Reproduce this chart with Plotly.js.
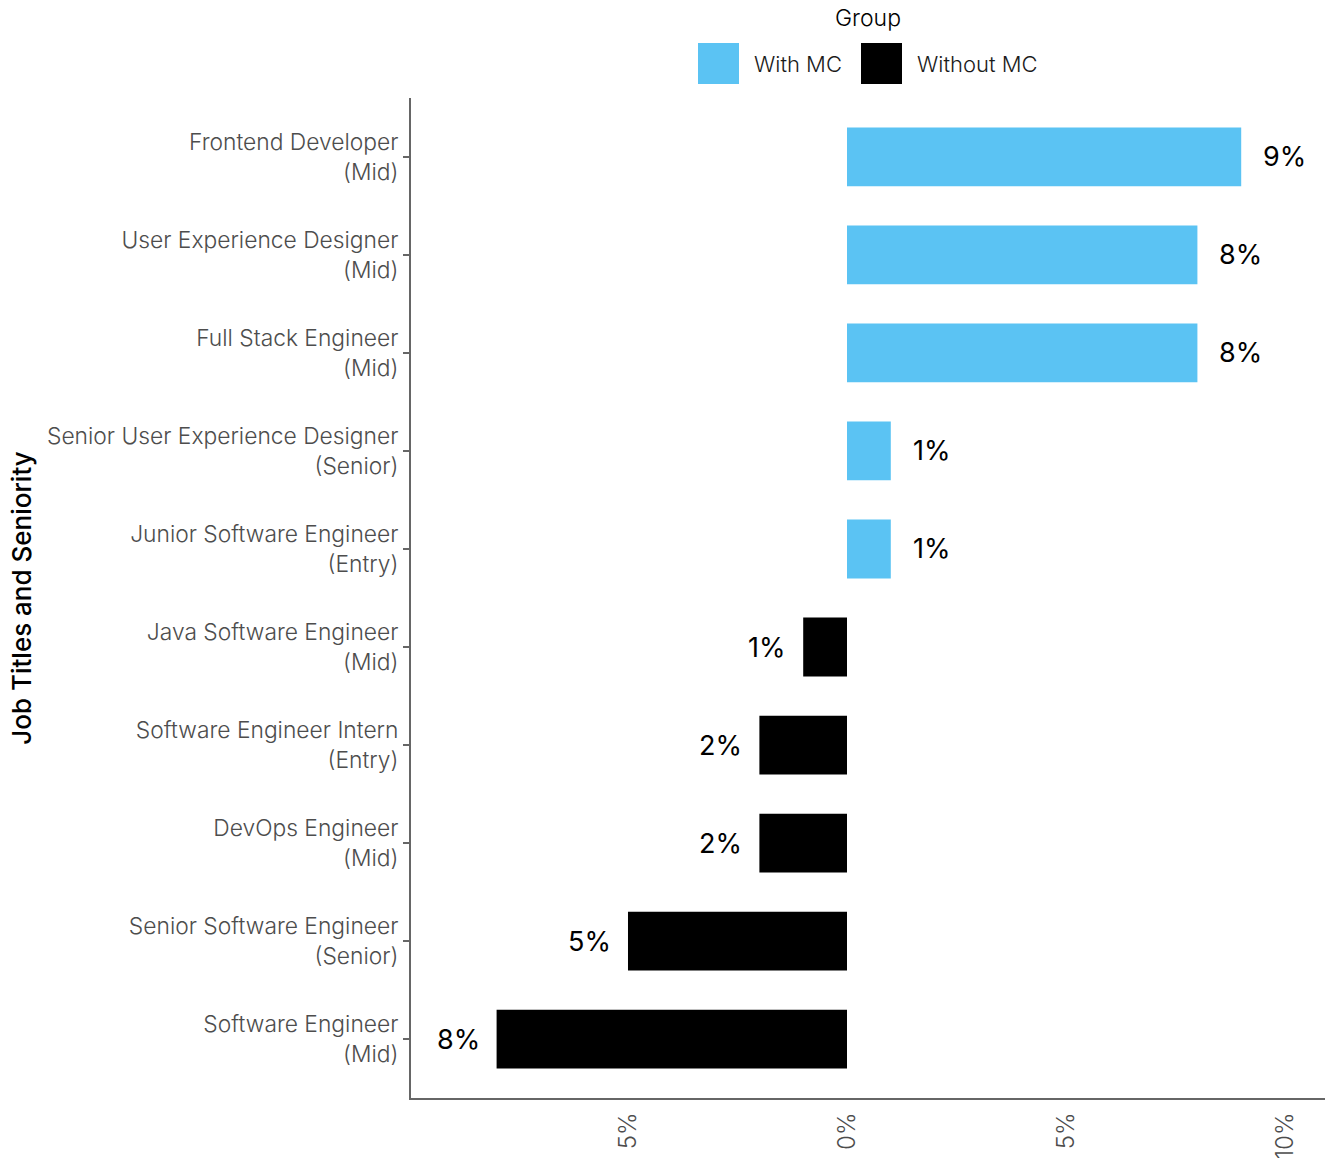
<!DOCTYPE html>
<html>
<head>
<meta charset="utf-8">
<script src="https://cdn.plot.ly/plotly-3.0.1.min.js"></script>
<style>html,body{margin:0;padding:0;background:#fff;}#chart{width:1327px;height:1159px;}</style>
</head>
<body>
<div id="chart"></div>
<script>
// Categories, top to bottom
const categories = [
  "Frontend Developer<br>(Mid)",
  "User Experience Designer<br>(Mid)",
  "Full Stack Engineer<br>(Mid)",
  "Senior User Experience Designer<br>(Senior)",
  "Junior Software Engineer<br>(Entry)",
  "Java Software Engineer<br>(Mid)",
  "Software Engineer Intern<br>(Entry)",
  "DevOps Engineer<br>(Mid)",
  "Senior Software Engineer<br>(Senior)",
  "Software Engineer<br>(Mid)"
];
const withMCCats = categories.slice(0, 5);
const withMCValues = [9, 8, 8, 1, 1];
const withoutMCCats = categories.slice(5);
const withoutMCValues = [-1, -2, -2, -5, -8];
const xTickVals = [-5, 0, 5, 10];
const xTickText = ["5%", "0%", "5%", "10%"];

const W = 1327, H = 1159;
const M = {l: 411, r: 2, t: 98, b: 61};
const plotW = W - M.l - M.r, plotH = H - M.t - M.b;
const px = v => (v - M.l) / plotW;
const py = v => (H - M.b - v) / plotH;

const fontFam = "Inter, Roboto, 'Liberation Sans', sans-serif";

const traces = [
  {type: 'bar', orientation: 'h', name: 'With MC', x: withMCValues, y: withMCCats,
   marker: {color: '#5BC3F3'}, width: 0.6, showlegend: false, hoverinfo: 'x+y'},
  {type: 'bar', orientation: 'h', name: 'Without MC', x: withoutMCValues, y: withoutMCCats,
   marker: {color: '#000000'}, width: 0.6, showlegend: false, hoverinfo: 'x+y'}
];

const annotations = [];
function addLabels(cats, vals) {
  cats.forEach((c, i) => {
    const v = vals[i];
    annotations.push({
      x: v, y: c, xref: 'x', yref: 'y', showarrow: false,
      text: Math.abs(v) + '%',
      xanchor: v >= 0 ? 'left' : 'right',
      xshift: v >= 0 ? 20 : -15,
      font: {family: fontFam, size: 27, color: '#000', weight: 400}
    });
  });
}
addLabels(withMCCats, withMCValues);
addLabels(withoutMCCats, withoutMCValues);

// Legend (drawn manually to match large square keys)
annotations.push({xref: 'paper', yref: 'paper', x: px(868), y: py(18), showarrow: false,
  text: 'Group', xanchor: 'center', yanchor: 'middle', font: {family: fontFam, size: 23, color: '#000', weight: 300}});
annotations.push({xref: 'paper', yref: 'paper', x: px(752), y: py(64), showarrow: false,
  text: 'With MC', xanchor: 'left', yanchor: 'middle', font: {family: fontFam, size: 22, color: '#1a1a1a', weight: 300}});
annotations.push({xref: 'paper', yref: 'paper', x: px(915), y: py(64), showarrow: false,
  text: 'Without MC', xanchor: 'left', yanchor: 'middle', font: {family: fontFam, size: 22, color: '#1a1a1a', weight: 300}});
const shapes = [
  {type: 'rect', xref: 'paper', yref: 'paper', x0: px(698), x1: px(739), y0: py(43), y1: py(84),
   fillcolor: '#5BC3F3', line: {width: 0}},
  {type: 'rect', xref: 'paper', yref: 'paper', x0: px(861), x1: px(902), y0: py(43), y1: py(84),
   fillcolor: '#000000', line: {width: 0}}
];

const layout = {
  width: W, height: H,
  margin: M,
  paper_bgcolor: '#fff', plot_bgcolor: '#fff',
  barmode: 'relative',
  showlegend: false,
  font: {family: fontFam, color: '#4d4d4d'},
  xaxis: {
    range: [-9.954, 10.913],
    tickvals: xTickVals, ticktext: xTickText,
    tickangle: -90,
    tickfont: {family: fontFam, size: 24, color: '#4d4d4d', weight: 300},
    ticks: 'outside', ticklen: 3, tickcolor: 'rgba(0,0,0,0)',
    showgrid: false, zeroline: false,
    showline: true, linecolor: '#666', linewidth: 2
  },
  yaxis: {
    type: 'category',
    categoryorder: 'array', categoryarray: categories,
    range: [9.6, -0.6],
    tickfont: {family: fontFam, size: 22.8, color: '#4d4d4d', weight: 300},
    ticks: 'outside', ticklen: 6, tickwidth: 2, tickcolor: '#666',
    showgrid: false, zeroline: false,
    showline: true, linecolor: '#666', linewidth: 2,
    title: {text: 'Job Titles and Seniority', font: {family: fontFam, size: 26, color: '#000', weight: 500}, standoff: 8}
  },
  annotations: annotations,
  shapes: shapes
};

Plotly.newPlot('chart', traces, layout, {displayModeBar: false, staticPlot: true});
</script>
</body>
</html>
